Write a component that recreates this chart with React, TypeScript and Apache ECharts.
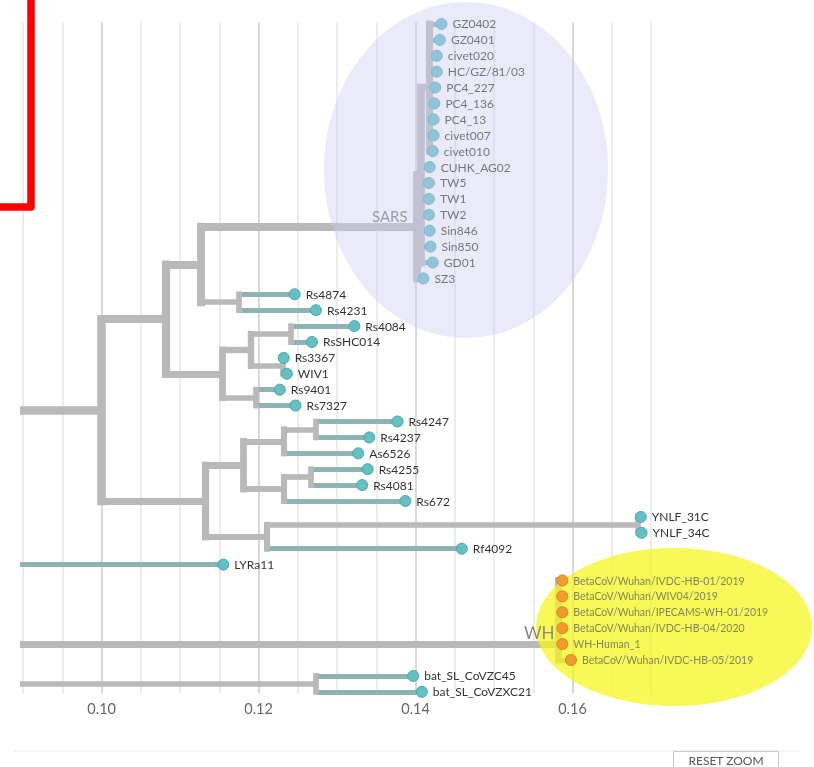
import React, { useEffect, useRef } from "react";
import * as echarts from "echarts";

// ---- axis range (divergence) ----
const X_MIN = 0.0896;
const X_MAX = 0.17;
const majorTicks = [0.1, 0.12, 0.14, 0.16];

// ---- tree: node id, parent id, divergence ----
const nodeIds = [
  "outer", "R0", "B", "A", "S0", "S1", "S2",
  "GZ0402", "GZ0401", "civet020", "HC/GZ/81/03", "PC4_227", "PC4_136", "PC4_13", "civet007", "civet010",
  "CUHK_AG02", "TW5", "TW1", "TW2", "Sin846", "Sin850", "GD01",
  "SZ3",
  "N1", "Rs4874", "Rs4231",
  "C", "D", "E", "Rs4084", "RsSHC014", "F", "Rs3367", "WIV1", "G", "Rs9401", "Rs7327",
  "H", "J", "K", "L", "Rs4247", "Rs4237", "As6526", "M", "N2", "Rs4255", "Rs4081", "Rs672",
  "I", "Y", "YNLF_31C", "YNLF_34C", "Rf4092",
  "LYRa11",
  "WH",
  "BetaCoV/Wuhan/IVDC-HB-01/2019", "BetaCoV/Wuhan/WIV04/2019", "BetaCoV/Wuhan/IPECAMS-WH-01/2019",
  "BetaCoV/Wuhan/IVDC-HB-04/2020", "WH-Human_1", "BetaCoV/Wuhan/IVDC-HB-05/2019",
  "BS", "bat_SL_CoVZC45", "bat_SL_CoVZXC21",
];
const parentIds: (string | null)[] = [
  null, "outer", "R0", "B", "A", "S0", "S1",
  "S2", "S2", "S2", "S2", "S2", "S2", "S2", "S2", "S2",
  "S1", "S1", "S1", "S1", "S1", "S1", "S1",
  "S0",
  "A", "N1", "N1",
  "B", "C", "D", "E", "E", "D", "F", "F", "C", "G", "G",
  "R0", "H", "J", "K", "L", "L", "K", "J", "M", "N2", "N2", "M",
  "H", "I", "Y", "Y", "I",
  "outer",
  "outer",
  "WH", "WH", "WH", "WH", "WH", "WH",
  "outer", "BS", "BS",
];
const divergence = [
  0.085, 0.0999, 0.1082, 0.1126, 0.1401, 0.1406, 0.1417,
  0.1433, 0.1431, 0.1427, 0.1427, 0.1425, 0.1424, 0.1423, 0.1423, 0.1422,
  0.1418, 0.1417, 0.1417, 0.1417, 0.1418, 0.1419, 0.1422,
  0.141,
  0.1175, 0.1246, 0.1273,
  0.1154, 0.119, 0.1241, 0.1322, 0.1268, 0.1231, 0.1232, 0.1236, 0.1196, 0.1227, 0.1247,
  0.1132, 0.118, 0.1232, 0.1273, 0.1377, 0.1341, 0.1327, 0.1232, 0.1266, 0.1339, 0.1332, 0.1387,
  0.1211, 0.1683, 0.1687, 0.1688, 0.1459,
  0.1155,
  0.1582,
  0.1587, 0.1587, 0.1587, 0.1587, 0.1587, 0.1598,
  0.1273, 0.1397, 0.1408,
];
// internal nodes drawn at the height of one of their tips
const alignedNodes = ["WH"];
const alignedTips = ["WH-Human_1"];
const wuhanTips = [
  "BetaCoV/Wuhan/IVDC-HB-01/2019", "BetaCoV/Wuhan/WIV04/2019", "BetaCoV/Wuhan/IPECAMS-WH-01/2019",
  "BetaCoV/Wuhan/IVDC-HB-04/2020", "WH-Human_1", "BetaCoV/Wuhan/IVDC-HB-05/2019",
];

const INTERNAL = "#b9b9b9";
const TERMINAL = "#8db4b2";
const FONT = "Lato, 'Open Sans', sans-serif";

export default function App() {
  const ref = useRef<HTMLDivElement>(null);

  useEffect(() => {
    const chart = echarts.init(ref.current!, null, { renderer: "svg" });

    const n = nodeIds.length;
    const idx = new Map<string, number>(nodeIds.map((id, i) => [id, i]));
    const children: number[][] = nodeIds.map(() => []);
    parentIds.forEach((p, i) => {
      if (p !== null) children[idx.get(p)!].push(i);
    });
    const yPos = new Array(n).fill(0);
    const tipCount = new Array(n).fill(0);
    let tip = 0;
    const visit = (i: number) => {
      const c = children[i];
      if (c.length === 0) {
        yPos[i] = tip++;
        tipCount[i] = 1;
        return;
      }
      c.forEach(visit);
      tipCount[i] = c.reduce((s, k) => s + tipCount[k], 0);
      yPos[i] = (yPos[c[0]] + yPos[c[c.length - 1]]) / 2;
    };
    visit(0);
    alignedNodes.forEach((nid, k) => {
      yPos[idx.get(nid)!] = yPos[idx.get(alignedTips[k])!];
    });
    const width = (cnt: number) => 5 + 1.0 * Math.log(cnt);

    const horiz: any[] = [];
    const vert: any[] = [];
    for (let i = 0; i < n; i++) {
      const p = parentIds[i];
      const isTip = children[i].length === 0;
      if (p !== null) {
        const pi = idx.get(p)!;
        const x0 = Math.max(divergence[pi], X_MIN);
        horiz.push({
          coords: [[x0, yPos[i]], [divergence[i], yPos[i]]],
          lineStyle: { color: isTip ? TERMINAL : INTERNAL, width: width(tipCount[i]), cap: "butt", opacity: 1 },
        });
      }
      if (!isTip && divergence[i] >= X_MIN) {
        const c = children[i];
        vert.push({
          coords: [[divergence[i], yPos[c[0]]], [divergence[i], yPos[c[c.length - 1]]]],
          lineStyle: { color: INTERNAL, width: width(tipCount[i]), cap: "square", opacity: 1 },
        });
      }
    }

    const tipsData: any[] = [];
    const wuhanData: any[] = [];
    for (let i = 0; i < n; i++) {
      if (children[i].length > 0) continue;
      const d = [divergence[i], yPos[i], nodeIds[i]];
      if (wuhanTips.includes(nodeIds[i])) wuhanData.push(d);
      else tipsData.push(d);
    }

    const isMajor = (v: number) => majorTicks.some((t) => Math.abs(t - v) < 1e-6);
    const tipLabel = {
      show: true,
      position: "right" as const,
      distance: 5,
      formatter: (p: any) => p.data[2],
      fontSize: 12,
      color: "#333",
      fontFamily: FONT,
    };

    chart.setOption({
      animation: false,
      textStyle: { fontFamily: FONT },
      grid: { left: 20, right: 163, top: 22.4, bottom: 73.6 },
      xAxis: [
        {
          type: "value",
          position: "bottom",
          min: X_MIN,
          max: X_MAX,
          splitNumber: 16,
          minInterval: 0.005,
          maxInterval: 0.005,
          axisLine: { show: false },
          axisTick: { show: false },
          axisLabel: { show: false },
          splitLine: { show: true, showMinLine: false, lineStyle: { color: "#e6e6e6", width: 1.5 } },
        },
        {
          type: "value",
          position: "bottom",
          min: X_MIN,
          max: X_MAX,
          splitNumber: 4,
          minInterval: 0.02,
          maxInterval: 0.02,
          axisLine: { show: false },
          axisTick: { show: false },
          axisLabel: {
            showMinLabel: false,
            showMaxLabel: false,
            formatter: (v: number) => (isMajor(v) ? v.toFixed(2) : ""),
            fontSize: 14.5,
            color: "#666",
            margin: 8,
            fontFamily: FONT,
          },
          splitLine: { show: true, showMinLine: false, showMaxLine: false, lineStyle: { color: "#d2d2d2", width: 1.5 } },
        },
      ],
      yAxis: { type: "value", min: -0.1, max: 42.1, inverse: true, show: false },
      series: [
        {
          type: "lines",
          coordinateSystem: "cartesian2d",
          xAxisIndex: 0,
          yAxisIndex: 0,
          clip: false,
          silent: true,
          z: 2,
          data: [...horiz, ...vert],
        },
        {
          type: "scatter",
          xAxisIndex: 0,
          yAxisIndex: 0,
          clip: false,
          silent: true,
          z: 3,
          symbol: "circle",
          symbolSize: 11,
          itemStyle: { color: "#63c0c4", borderColor: "#4ba6aa", borderWidth: 1, opacity: 1 },
          label: tipLabel,
          data: tipsData,
        },
        {
          type: "scatter",
          xAxisIndex: 0,
          yAxisIndex: 0,
          clip: false,
          silent: true,
          z: 12,
          symbol: "circle",
          symbolSize: 11,
          itemStyle: { color: "#f29b30", borderColor: "#e07f12", borderWidth: 1, opacity: 1 },
          label: { ...tipLabel, fontSize: 10.5, color: "#86865a" },
          data: wuhanData,
        },
      ],
      graphic: {
        elements: [
          { type: "ellipse", z: 10, silent: true, shape: { cx: 466, cy: 170, rx: 142, ry: 168 }, style: { fill: "rgba(205,205,245,0.42)" } },
          { type: "ellipse", z: 10, silent: true, shape: { cx: 674, cy: 627, rx: 138, ry: 79 }, style: { fill: "rgba(245,245,25,0.72)" } },
          { type: "text", z: 11, silent: true, x: 372, y: 216, style: { text: "SARS", fontSize: 15, fill: "#9b9bab", fontFamily: FONT, verticalAlign: "middle" } },
          { type: "text", z: 11, silent: true, x: 524, y: 632, style: { text: "WH", fontSize: 17, fill: "#8c8c78", fontFamily: FONT, verticalAlign: "middle" } },
          { type: "polyline", z: 20, silent: true, shape: { points: [[0, 207], [31, 207], [31, 0]] }, style: { stroke: "#ff0000", lineWidth: 7.5, fill: null, lineJoin: "round" } },
          { type: "line", z: 20, silent: true, shape: { x1: 14, y1: 751, x2: 800, y2: 751 }, style: { stroke: "#ececec", lineWidth: 1 } },
          { type: "rect", z: 20, silent: true, shape: { x: 673.5, y: 751.5, width: 105, height: 30 }, style: { fill: "#fff", stroke: "#c8c8c8", lineWidth: 1 } },
          { type: "text", z: 21, silent: true, x: 726, y: 760, style: { text: "RESET ZOOM", align: "center", verticalAlign: "middle", fontSize: 12, fill: "#555", fontFamily: FONT } },
        ],
      },
    });

    return () => chart.dispose();
  }, []);

  return <div ref={ref} style={{ position: "fixed", left: 0, top: 0, width: 814, height: 767 }} />;
}
